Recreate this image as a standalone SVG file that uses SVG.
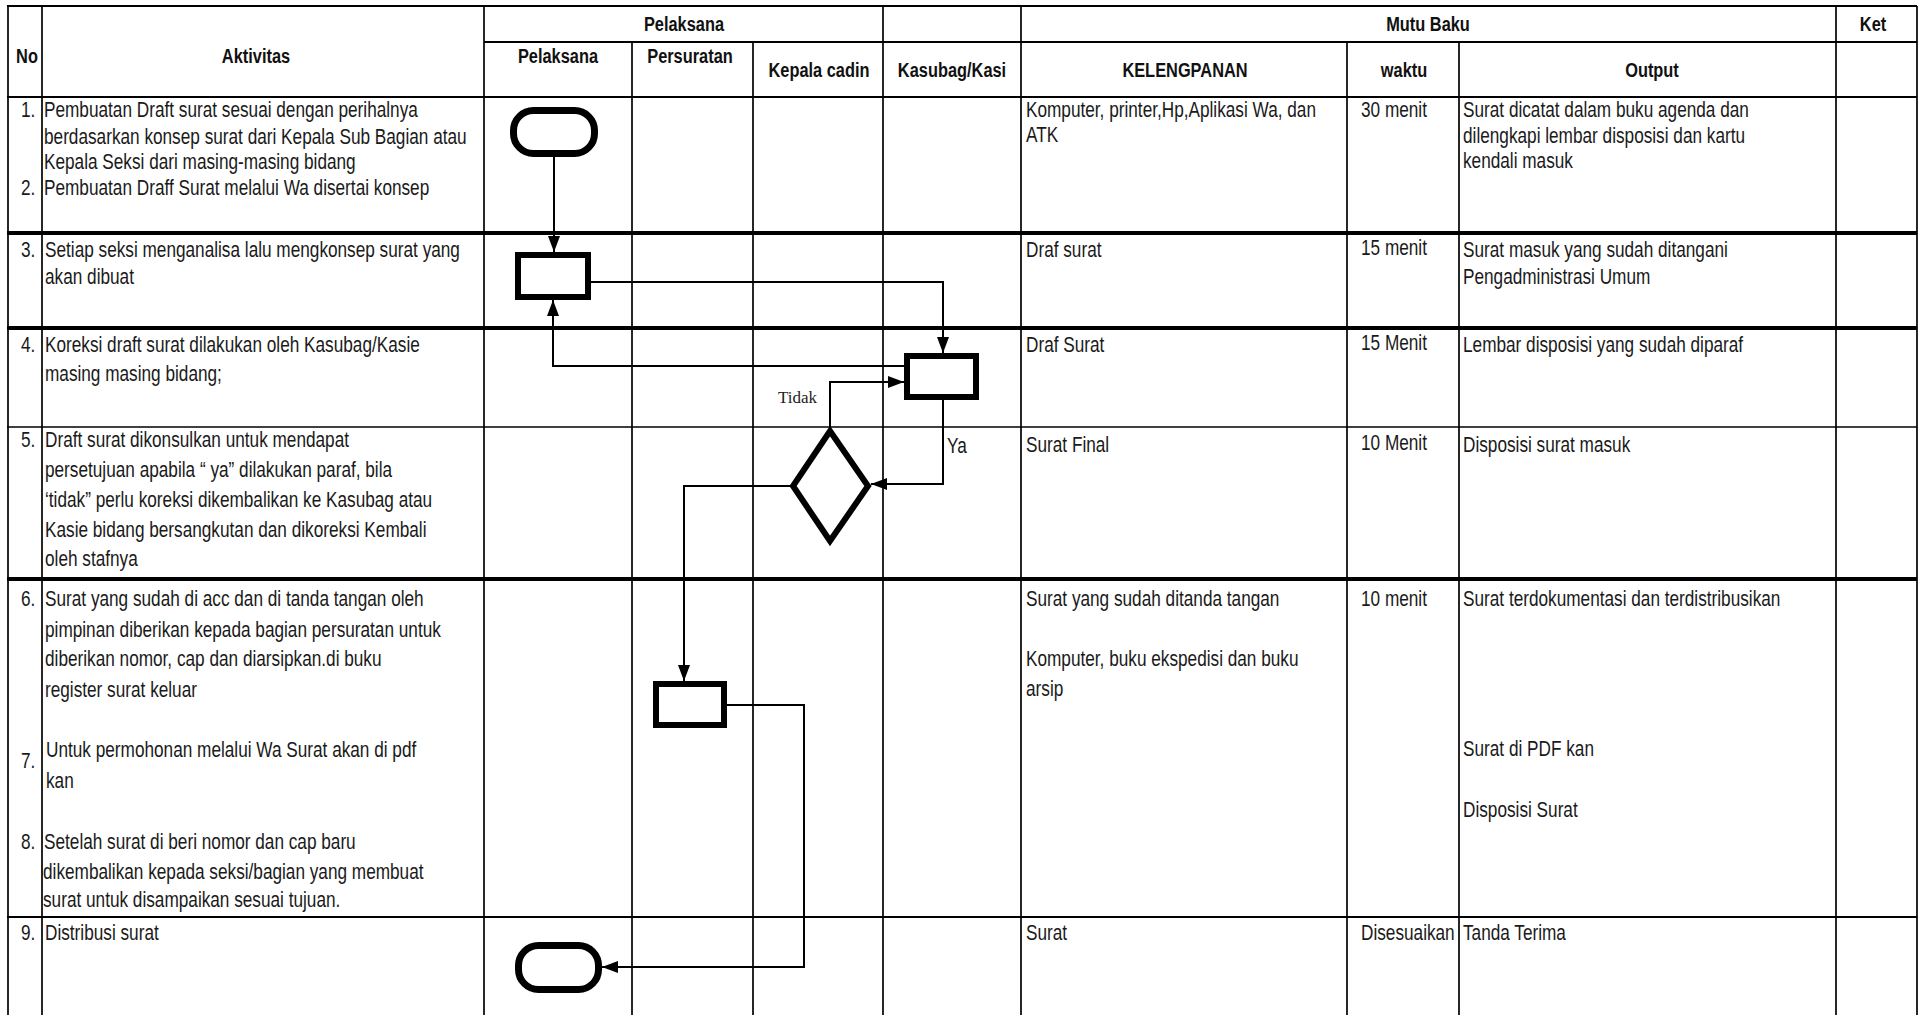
<svg xmlns="http://www.w3.org/2000/svg" width="1925" height="1015" viewBox="0 0 1925 1015">
<style>
.bg{fill:#fff}
.g1{stroke:#000;stroke-width:1.7;fill:none}
.g2{stroke:#000;stroke-width:2.2;fill:none}
.g4{stroke:#000;stroke-width:4;fill:none}
.t{font-family:"Liberation Sans",Arial,sans-serif;font-size:22.5px;fill:#1a1a1a}
.h{font-family:"Liberation Sans",Arial,sans-serif;font-size:21px;font-weight:bold;fill:#111;text-anchor:middle}
.lbl{font-family:"Liberation Serif","Times New Roman",serif;font-size:17px;fill:#222}
.shape{fill:#fff;stroke:#000;stroke-width:6}
.term{fill:#fff;stroke:#000;stroke-width:7}
.conn{fill:none;stroke:#000;stroke-width:2}
</style>
<defs>
<marker id="ah" markerUnits="userSpaceOnUse" markerWidth="16" markerHeight="12" refX="16" refY="6" orient="auto" viewBox="0 0 16 12"><path d="M0,0L16,6L0,12z" fill="#000"/></marker>
</defs>
<rect class="bg" x="0" y="0" width="1925" height="1015"/>

<g id="grid">
<line class="g2" x1="7" y1="6" x2="1917" y2="6"/>
<line class="g2" x1="484" y1="42" x2="1917" y2="42"/>
<line class="g2" x1="7" y1="97" x2="1917" y2="97"/>
<line class="g4" x1="7" y1="233" x2="1917" y2="233"/>
<line class="g4" x1="7" y1="328" x2="1917" y2="328"/>
<line class="g1" x1="7" y1="427" x2="1917" y2="427"/>
<line class="g4" x1="7" y1="579" x2="1917" y2="579"/>
<line class="g2" x1="7" y1="917" x2="1917" y2="917"/>
<line class="g1" x1="8" y1="6" x2="8" y2="1015"/>
<line class="g1" x1="42" y1="6" x2="42" y2="1015"/>
<line class="g1" x1="484" y1="6" x2="484" y2="1015"/>
<line class="g1" x1="632" y1="42" x2="632" y2="1015"/>
<line class="g1" x1="753" y1="42" x2="753" y2="1015"/>
<line class="g1" x1="883" y1="6" x2="883" y2="1015"/>
<line class="g1" x1="1021" y1="6" x2="1021" y2="1015"/>
<line class="g1" x1="1347" y1="42" x2="1347" y2="1015"/>
<line class="g1" x1="1459" y1="42" x2="1459" y2="1015"/>
<line class="g1" x1="1836" y1="6" x2="1836" y2="1015"/>
<line class="g1" x1="1917" y1="6" x2="1917" y2="1015"/>
</g>

<g id="header">
<text class="h" transform="translate(684,0) scale(0.78,1)" y="31">Pelaksana</text>
<text class="h" transform="translate(1428,0) scale(0.78,1)" y="31">Mutu Baku</text>
<text class="h" transform="translate(1873,0) scale(0.78,1)" y="31">Ket</text>
<text class="h" transform="translate(27,0) scale(0.78,1)" y="63">No</text>
<text class="h" transform="translate(256,0) scale(0.78,1)" y="63">Aktivitas</text>
<text class="h" transform="translate(558,0) scale(0.78,1)" y="63">Pelaksana</text>
<text class="h" transform="translate(690,0) scale(0.78,1)" y="63">Persuratan</text>
<text class="h" transform="translate(819,0) scale(0.78,1)" y="77">Kepala cadin</text>
<text class="h" transform="translate(952,0) scale(0.78,1)" y="77">Kasubag/Kasi</text>
<text class="h" transform="translate(1185,0) scale(0.78,1)" y="77">KELENGPANAN</text>
<text class="h" transform="translate(1404,0) scale(0.78,1)" y="77">waktu</text>
<text class="h" transform="translate(1652,0) scale(0.78,1)" y="77">Output</text>
</g>

<g id="col-no" transform="translate(21,0) scale(0.765,1)">
<text class="t" x="0" y="117">1.</text>
<text class="t" x="0" y="195">2.</text>
<text class="t" x="0" y="257">3.</text>
<text class="t" x="0" y="352">4.</text>
<text class="t" x="0" y="447">5.</text>
<text class="t" x="0" y="606">6.</text>
<text class="t" x="0" y="768">7.</text>
<text class="t" x="0" y="849">8.</text>
<text class="t" x="0" y="940">9.</text>
</g>

<g id="col-aktivitas" transform="translate(44,0) scale(0.765,1)">
<text class="t" x="0" y="117">Pembuatan Draft surat sesuai dengan perihalnya</text>
<text class="t" x="0" y="144">berdasarkan konsep surat dari Kepala Sub Bagian atau</text>
<text class="t" x="0" y="169">Kepala Seksi dari masing-masing bidang</text>
<text class="t" x="0" y="195">Pembuatan Draff Surat melalui Wa disertai konsep</text>
<text class="t" x="1.3" y="257">Setiap seksi menganalisa lalu mengkonsep surat yang</text>
<text class="t" x="1.3" y="284">akan dibuat</text>
<text class="t" x="1.3" y="352">Koreksi draft surat dilakukan oleh Kasubag/Kasie</text>
<text class="t" x="1.3" y="381">masing masing bidang;</text>
<text class="t" x="1.3" y="447">Draft surat dikonsulkan untuk mendapat</text>
<text class="t" x="1.3" y="477">persetujuan apabila “ ya” dilakukan paraf, bila</text>
<text class="t" x="1.3" y="507">‘tidak” perlu koreksi dikembalikan ke Kasubag atau</text>
<text class="t" x="1.3" y="537">Kasie bidang bersangkutan dan dikoreksi Kembali</text>
<text class="t" x="1.3" y="566">oleh stafnya</text>
<text class="t" x="1.3" y="606">Surat yang sudah di acc dan di tanda tangan oleh</text>
<text class="t" x="1.3" y="637">pimpinan diberikan kepada bagian persuratan untuk</text>
<text class="t" x="1.3" y="666">diberikan nomor, cap dan diarsipkan.di buku</text>
<text class="t" x="1.3" y="697">register surat keluar</text>
<text class="t" x="2.6" y="757">Untuk permohonan melalui Wa Surat akan di pdf</text>
<text class="t" x="2.6" y="788">kan</text>
<text class="t" x="0" y="849">Setelah surat di beri nomor dan cap baru</text>
<text class="t" x="-1.3" y="879">dikembalikan kepada seksi/bagian yang membuat</text>
<text class="t" x="-1.3" y="907">surat untuk disampaikan sesuai tujuan.</text>
<text class="t" x="1.3" y="940">Distribusi surat</text>
</g>

<g id="col-kelengkapan" transform="translate(1026,0) scale(0.765,1)">
<text class="t" x="0" y="117">Komputer, printer,Hp,Aplikasi Wa, dan</text>
<text class="t" x="0" y="142">ATK</text>
<text class="t" x="0" y="257">Draf surat</text>
<text class="t" x="0" y="352">Draf Surat</text>
<text class="t" x="0" y="452">Surat Final</text>
<text class="t" x="0" y="606">Surat yang sudah ditanda tangan</text>
<text class="t" x="0" y="666">Komputer, buku ekspedisi dan buku</text>
<text class="t" x="0" y="696">arsip</text>
<text class="t" x="0" y="940">Surat</text>
</g>

<g id="col-waktu" transform="translate(1361,0) scale(0.765,1)">
<text class="t" x="0" y="117">30 menit</text>
<text class="t" x="0" y="255">15 menit</text>
<text class="t" x="0" y="350">15 Menit</text>
<text class="t" x="0" y="450">10 Menit</text>
<text class="t" x="0" y="606">10 menit</text>
<text class="t" x="0" y="940">Disesuaikan</text>
</g>

<g id="col-output" transform="translate(1463,0) scale(0.765,1)">
<text class="t" x="0" y="117">Surat dicatat dalam buku agenda dan</text>
<text class="t" x="0" y="143">dilengkapi lembar disposisi dan kartu</text>
<text class="t" x="0" y="168">kendali masuk</text>
<text class="t" x="0" y="257">Surat masuk yang sudah ditangani</text>
<text class="t" x="0" y="284">Pengadministrasi Umum</text>
<text class="t" x="0" y="352">Lembar disposisi yang sudah diparaf</text>
<text class="t" x="0" y="452">Disposisi surat masuk</text>
<text class="t" x="0" y="606">Surat terdokumentasi dan terdistribusikan</text>
<text class="t" x="0" y="756">Surat di PDF kan</text>
<text class="t" x="0" y="817">Disposisi Surat</text>
<text class="t" x="0" y="940">Tanda Terima</text>
</g>

<g id="connectors">
<path class="conn" d="M554,157 V252" marker-end="url(#ah)"/>
<path class="conn" d="M591,282 H943 V353" marker-end="url(#ah)"/>
<path class="conn" d="M904,366 H553 V300" marker-end="url(#ah)"/>
<path class="conn" d="M830,428 V382 H904" marker-end="url(#ah)"/>
<path class="conn" d="M943,400 V484 H871" marker-end="url(#ah)"/>
<path class="conn" d="M790,486 H684 V681" marker-end="url(#ah)"/>
<path class="conn" d="M727,705 H804 V967 H602" marker-end="url(#ah)"/>
<text class="lbl" x="778" y="403">Tidak</text>
<text class="t" transform="translate(947,0) scale(0.765,1)" y="453">Ya</text>
</g>

<g id="start"><rect class="term" x="513.5" y="110.5" width="81" height="43" rx="20" ry="20"/></g>
<g id="step-draft"><rect class="shape" x="518" y="255" width="70" height="42"/></g>
<g id="step-koreksi"><rect class="shape" x="907" y="356" width="69" height="41"/></g>
<g id="decision"><polygon class="shape" points="830,431 868,486 830,541 793,486"/></g>
<g id="step-persuratan"><rect class="shape" x="656" y="684" width="68" height="41"/></g>
<g id="end"><rect class="term" x="518.5" y="945.5" width="80" height="44" rx="20" ry="20"/></g>
</svg>
